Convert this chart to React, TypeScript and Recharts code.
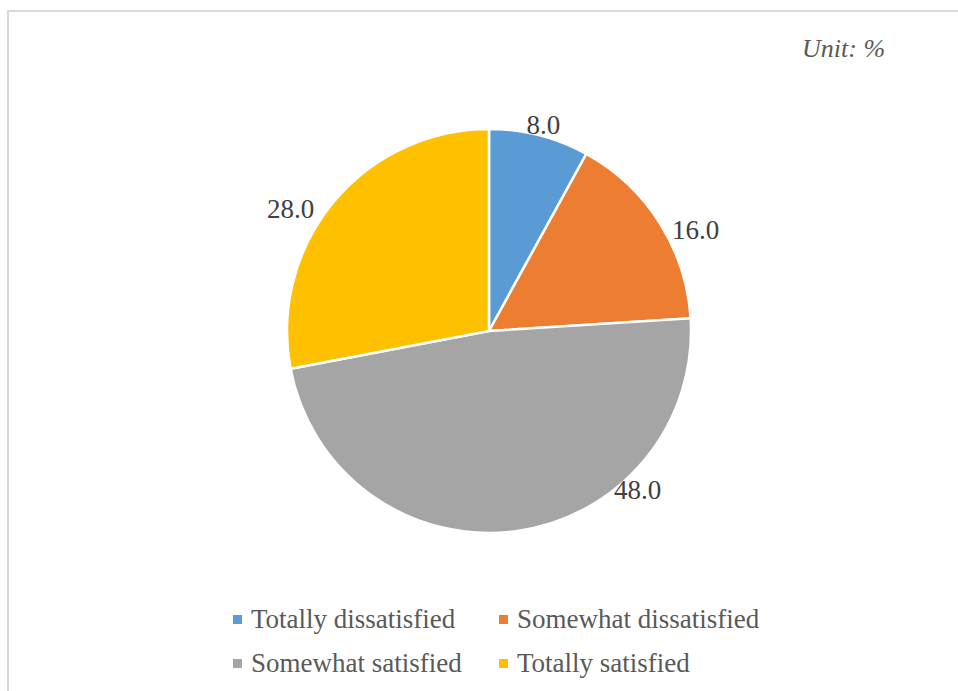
import { PieChart, Pie, Cell, Legend } from 'recharts';

const categories = ['Totally dissatisfied', 'Somewhat dissatisfied', 'Somewhat satisfied', 'Totally satisfied'];
const shares = [8.0, 16.0, 48.0, 28.0];
const colors = ['#5B9BD5', '#ED7D31', '#A5A5A5', '#FFC000'];

const data = categories.map((name, i) => ({ name, value: shares[i] }));

// Excel "best fit" label placement: angle (deg) and distance from centre
const labelSpots = [
  { angle: 75.2, r: 213 },
  { angle: 26, r: 230 },
  { angle: -47, r: 218 },
  { angle: 148.4, r: 233 },
];

const FONT = '"Liberation Serif", "Times New Roman", "DejaVu Serif", serif';

function renderLabel(props: any) {
  const { cx, cy, index, value } = props;
  const spot = labelSpots[index];
  const rad = (spot.angle * Math.PI) / 180;
  const x = cx + spot.r * Math.cos(rad);
  const y = cy - spot.r * Math.sin(rad);
  return (
    <text
      x={x}
      y={y}
      fill="#404040"
      fontSize={27}
      fontFamily={FONT}
      textAnchor="middle"
      dominantBaseline="central"
    >
      {Number(value).toFixed(1)}
    </text>
  );
}

function renderLegend() {
  return (
    <div style={{ position: 'relative', width: 958, height: 90 }}>
      {categories.map((name, i) => (
        <div
          key={`leg-${i}`}
          style={{
            position: 'absolute',
            left: i % 2 === 0 ? 233 : 499,
            top: Math.floor(i / 2) * 44,
            display: 'flex',
            alignItems: 'center',
            fontFamily: FONT,
            fontSize: 27,
            color: '#595959',
            whiteSpace: 'nowrap',
            lineHeight: '30px',
          }}
        >
          <span style={{ display: 'inline-block', width: 9, height: 9, background: colors[i], marginRight: 9 }} />
          {name}
        </div>
      ))}
    </div>
  );
}

export default function App() {
  return (
    <div style={{ position: 'absolute', left: 0, top: 0, width: 958, height: 691, background: '#fff', overflow: 'hidden' }}>
      <div
        style={{
          position: 'absolute',
          left: 7,
          top: 10,
          width: 980,
          height: 720,
          borderTop: '2px solid #D9D9D9',
          borderLeft: '2px solid #D9D9D9',
        }}
      />
      <div
        style={{
          position: 'absolute',
          left: 802,
          top: 34,
          fontFamily: FONT,
          fontStyle: 'italic',
          fontSize: 26,
          color: '#595959',
        }}
      >
        Unit: %
      </div>
      <div style={{ position: 'absolute', left: 0, top: 0 }}>
        <PieChart width={958} height={691} margin={{ top: 0, right: 0, bottom: 0, left: 0 }}>
          <Pie
            data={data}
            dataKey="value"
            nameKey="name"
            cx={489}
            cy={331}
            outerRadius={202}
            startAngle={90}
            endAngle={-270}
            stroke="#ffffff"
            strokeWidth={2.5}
            label={renderLabel}
            labelLine={false}
            isAnimationActive={false}
          >
            {data.map((entry, i) => (
              <Cell key={`cell-${i}`} fill={colors[i]} />
            ))}
          </Pie>
          <Legend
            content={renderLegend}
            wrapperStyle={{ position: 'absolute', left: 0, top: 604, width: 958 }}
          />
        </PieChart>
      </div>
    </div>
  );
}
